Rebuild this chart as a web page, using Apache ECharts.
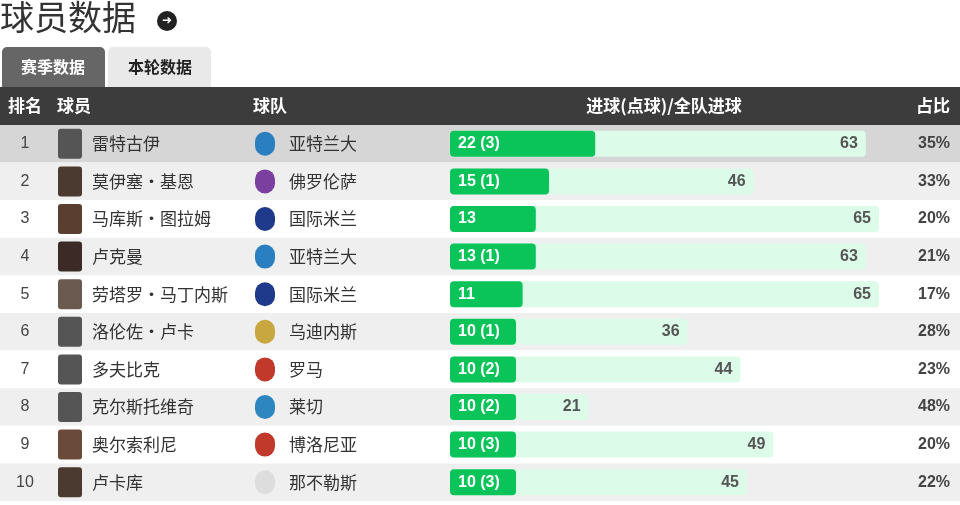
<!DOCTYPE html>
<html><head><meta charset="utf-8">
<script src="https://cdn.jsdelivr.net/npm/echarts@6/dist/echarts.min.js"></script>
<style>html,body{margin:0;padding:0;background:#fff}#c{width:960px;height:505px}</style>
</head><body><div id="c"></div>
<script>
const ranks=[1,2,3,4,5,6,7,8,9,10];
const players=['雷特古伊','莫伊塞·基恩','马库斯·图拉姆','卢克曼','劳塔罗·马丁内斯','洛伦佐·卢卡','多夫比克','克尔斯托维奇','奥尔索利尼','卢卡库'];
const teams=['亚特兰大','佛罗伦萨','国际米兰','亚特兰大','国际米兰','乌迪内斯','罗马','莱切','博洛尼亚','那不勒斯'];
const goals=[22,15,13,13,11,10,10,10,10,10];
const penalties=[3,1,0,1,0,1,2,2,3,3];
const teamGoals=[63,46,65,63,65,36,44,21,49,45];
const pct=['35%','33%','20%','21%','17%','28%','23%','48%','20%','22%'];
const logoColors=['#2a7fc1','#7b3fa0','#1f3a8a','#2a7fc1','#1f3a8a','#c8a640','#c0392b','#2e86c1','#c0392b','#dddddd'];
const avColors=['#555','#4a3a30','#5a3f30','#3b2a25','#6a5a50','#555','#555','#555','#6a4a3a','#4a3a30'];

const gTop=125, rowH=37.6, gl=450, gw=429;
const NUM='"Liberation Sans", Arial, sans-serif';
const chart=echarts.init(document.getElementById('c'));
const gfx=[
 {type:'text',left:0,top:0,style:{text:'球员数据',font:'34px "Noto Sans CJK SC"',fill:'#333'}},
 {type:'circle',shape:{cx:167,cy:21,r:10},style:{fill:'#222'}},
 {type:'text',x:167,y:21,style:{text:'➜',font:'bold 12px "DejaVu Sans"',fill:'#fff',align:'center',verticalAlign:'middle'}},
 {type:'rect',shape:{x:2,y:47,width:103,height:40,r:[5,5,0,0]},style:{fill:'#666'}},
 {type:'text',x:53,y:67,style:{text:'赛季数据',font:'bold 16px "Noto Sans CJK SC"',fill:'#fff',align:'center',verticalAlign:'middle'}},
 {type:'rect',shape:{x:108,y:47,width:103,height:40,r:[5,5,0,0]},style:{fill:'#e9e9e9'}},
 {type:'text',x:160,y:67,style:{text:'本轮数据',font:'bold 16px "Noto Sans CJK SC"',fill:'#222',align:'center',verticalAlign:'middle'}},
 {type:'rect',shape:{x:0,y:87,width:960,height:38},style:{fill:'#3c3c3c'}},
];
const hdr=[['排名',8,'left'],['球员',57,'left'],['球队',253,'left'],['进球(点球)/全队进球',664,'center'],['占比',950,'right']];
hdr.forEach(h=>gfx.push({type:'text',x:h[1],y:106,style:{text:h[0],font:'bold 17px "Noto Sans CJK SC"',fill:'#fff',align:h[2],verticalAlign:'middle'}}));
ranks.forEach((r,i)=>{
 const fill=i===0?'#d6d6d6':(i%2===1?'#efefef':'#ffffff');
 gfx.push({type:'rect',z:-10,shape:{x:0,y:gTop+i*rowH,width:960,height:rowH},style:{fill}});
});
const rich1={r:{width:30,align:'center',fontSize:16,color:'#444',fontFamily:NUM},sp:{width:18}};
const rich3={sp3:{width:14},t:{fontSize:17,color:'#333'}};
ranks.forEach((r,i)=>{
 rich1['av'+i]={width:24,height:30,backgroundColor:avColors[i],borderRadius:3};
 rich3['lg'+i]={width:20,height:24,backgroundColor:logoColors[i],borderRadius:10};
});
const base={type:'category',inverse:true,axisLine:{show:false},axisTick:{show:false},position:'left'};
chart.setOption({
 animation:false,
 textStyle:{fontFamily:'"Noto Sans CJK SC", "Liberation Sans", sans-serif'},
 graphic:gfx,
 grid:{left:gl,width:gw,top:gTop,height:rowH*10},
 xAxis:{type:'value',min:0,max:65,show:false},
 yAxis:[
  Object.assign({},base,{data:ranks,axisLabel:{margin:440,align:'left',formatter:(v,i)=>`{r|${v}}{sp|}{av${i}|}`,rich:rich1}}),
  Object.assign({},base,{data:players,axisLabel:{margin:358,align:'left',fontSize:17,color:'#333'}}),
  Object.assign({},base,{data:teams,axisLabel:{margin:195,align:'left',formatter:(v,i)=>`{lg${i}|}{sp3|}{t|${v}}`,rich:rich3}}),
  Object.assign({},base,{position:'right',data:pct,axisLabel:{margin:71,align:'right',fontSize:16,fontWeight:'bold',color:'#444',fontFamily:NUM}})],
 series:[
  {type:'bar',data:teamGoals,barWidth:26,barGap:'-100%',itemStyle:{color:'#dcfbe9',borderRadius:4},
   label:{show:true,position:'insideRight',distance:8,fontSize:16,fontWeight:'bold',color:'#555',fontFamily:NUM}},
  {type:'bar',data:goals,barWidth:26,itemStyle:{color:'#0ac45a',borderRadius:4},
   label:{show:true,position:'insideLeft',distance:8,fontSize:16,fontWeight:'bold',color:'#fff',fontFamily:NUM,
    formatter:p=>penalties[p.dataIndex]?`${p.value} (${penalties[p.dataIndex]})`:`${p.value}`}}
 ]
});
</script></body></html>
